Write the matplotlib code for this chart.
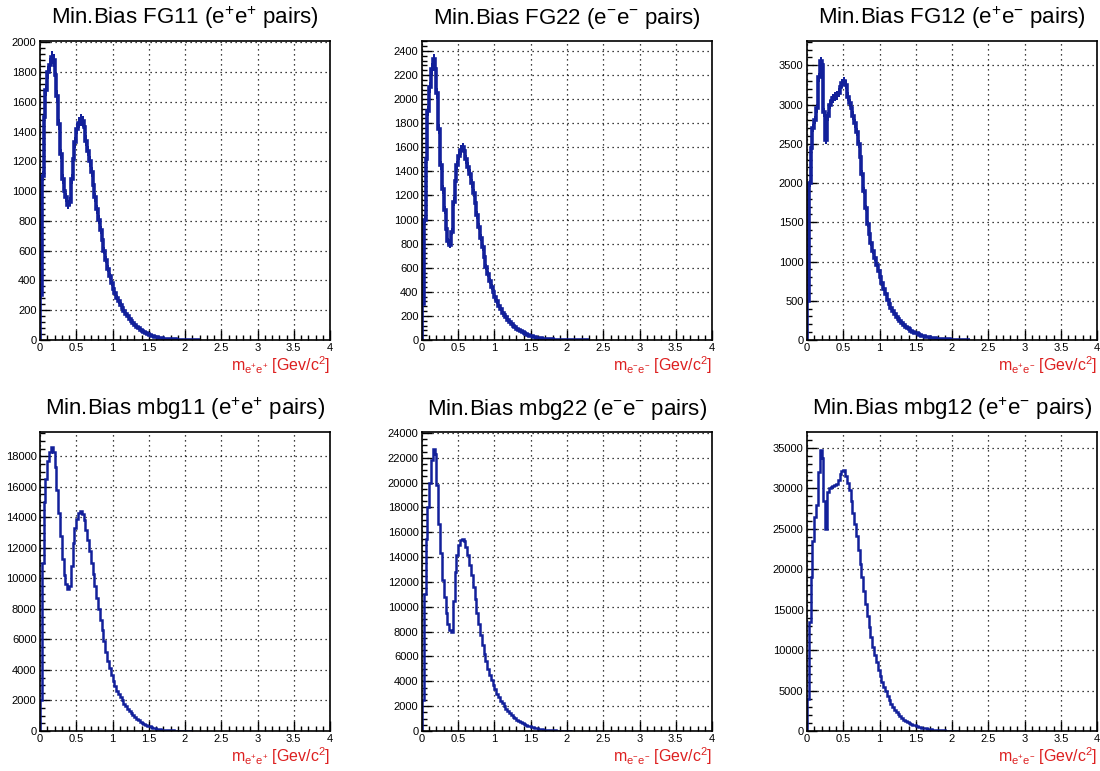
import numpy as np
import matplotlib
matplotlib.use('Agg')
import matplotlib.pyplot as plt
from matplotlib.ticker import MultipleLocator, AutoMinorLocator, FormatStrFormatter

plt.rcParams['font.family'] = ['Liberation Sans', 'DejaVu Sans']
plt.rcParams['mathtext.default'] = 'regular'

# bin width of all histograms [GeV/c^2], first bin starts at 0
BIN = 0.025

# foreground, like-sign e+e+
fg11 = [300, 1100, 1500, 1680, 1800, 1850, 1900, 1880, 1780, 1640,
        1450, 1250, 1080, 1000, 960, 910, 930, 1080, 1220, 1330,
        1420, 1460, 1480, 1470, 1430, 1340, 1270, 1200, 1130, 1040,
        960, 880, 810, 740, 670, 600, 540, 480, 430, 385,
        345, 315, 285, 260, 237, 215, 197, 178, 160, 143,
        128, 114, 101, 90, 80, 70, 62, 54, 47, 41,
        35, 30, 26, 22, 19, 16, 13, 11, 9, 8,
        7, 6, 5, 4, 3.5, 3, 2.5, 2, 1.7, 1.4,
        1.2, 1, 0.8, 0.6, 0.5, 0.4, 0.3, 0.2]

# foreground, like-sign e-e-
fg22 = [300, 1000, 1500, 1900, 2100, 2250, 2330, 2250, 2050, 1750,
        1450, 1250, 1080, 920, 820, 790, 900, 1150, 1320, 1450,
        1530, 1580, 1600, 1570, 1500, 1440, 1380, 1300, 1220, 1140,
        1040, 940, 850, 770, 690, 610, 550, 490, 440, 400,
        355, 320, 285, 255, 228, 205, 190, 170, 150, 133,
        118, 105, 93, 82, 72, 63, 55, 48, 42, 36,
        31, 27, 23, 20, 17, 14, 12, 10, 8, 7,
        6, 5, 4, 3.5, 3, 2.5, 2, 1.7, 1.4, 1.2,
        1, 0.8, 0.6, 0.5, 0.4, 0.3, 0.3, 0.2, 0.2, 0.1, 0.1, 0.1]

# foreground, unlike-sign e+e-
fg12 = [500, 2000, 2450, 2700, 2800, 2950, 3350, 3550, 3500, 2900,
        2550, 2850, 3000, 3050, 3080, 3100, 3120, 3150, 3220, 3270,
        3300, 3250, 3100, 3020, 2950, 2860, 2760, 2650, 2500, 2330,
        2120, 1900, 1680, 1480, 1350, 1230, 1130, 1040, 960, 880,
        800, 720, 650, 580, 515, 460, 410, 370, 330, 295,
        265, 238, 212, 190, 170, 152, 135, 120, 106, 94,
        83, 73, 64, 56, 49, 43, 38, 33, 29, 25,
        22, 19, 16, 14, 12, 10, 9, 8, 7, 6,
        5, 4, 3.5, 3, 2.5, 2, 1.5, 1.2, 1, 0.8]

# mixed-event background, e+e+
mbg11 = [2000, 11000, 15000, 16500, 17700, 18300, 18600, 18300, 17300, 15800,
         14300, 12800, 11300, 10200, 9600, 9300, 9500, 10800, 12300, 13300,
         13900, 14300, 14400, 14200, 13800, 13200, 12500, 11800, 11000, 10300,
         9500, 8700, 8000, 7300, 6600, 5900, 5200, 4600, 4100, 3700,
         3300, 2950, 2650, 2400, 2200, 2000, 1800, 1620, 1460, 1310,
         1170, 1040, 920, 810, 710, 620, 540, 470, 410, 355,
         305, 260, 220, 185, 155, 132, 113, 96, 82, 70,
         60, 51, 43, 36, 30, 25, 21, 17, 14, 11,
         9, 7, 5, 4]

# mixed-event background, e-e-
mbg22 = [2500, 11000, 15500, 18000, 20000, 21800, 22700, 22300, 19800, 16700,
         14300, 12200, 10800, 9500, 8600, 8100, 8000, 10500, 12800, 14200,
         15000, 15400, 15500, 15300, 14800, 14200, 13400, 12600, 11600, 10600,
         9500, 8600, 7700, 6900, 6200, 5600, 5000, 4500, 4100, 3700,
         3350, 3000, 2700, 2450, 2250, 2000, 1800, 1620, 1450, 1300,
         1160, 1030, 910, 810, 720, 640, 560, 490, 430, 380,
         330, 290, 250, 215, 185, 160, 138, 118, 100, 85,
         72, 61, 51, 43, 36, 30, 25, 20, 16, 13,
         10, 8, 6]

# mixed-event background, e+e-
mbg12 = [4000, 13500, 19000, 23500, 26500, 28000, 32000, 34800, 33800, 28500,
         25000, 29500, 30000, 30200, 30300, 30400, 30500, 31000, 31800, 32200,
         32300, 31500, 30700, 29800, 28400, 27000, 25600, 24100, 22400, 20700,
         19000, 17300, 15700, 14200, 12800, 11600, 10400, 9400, 8500, 7600,
         6800, 6100, 5500, 4900, 4300, 3800, 3350, 2950, 2600, 2300,
         2050, 1800, 1600, 1420, 1260, 1120, 1000, 880, 780, 690,
         610, 540, 470, 410, 360, 315, 275, 240, 210, 180,
         155, 130, 110, 92, 77, 64, 53, 43, 35, 28,
         22, 17, 13, 10]

titles = ['Min.Bias FG11 (e$^{+}$e$^{+}$ pairs)',
          'Min.Bias FG22 (e$^{-}$e$^{-}$ pairs)',
          'Min.Bias FG12 (e$^{+}$e$^{-}$ pairs)',
          'Min.Bias mbg11 (e$^{+}$e$^{+}$ pairs)',
          'Min.Bias mbg22 (e$^{-}$e$^{-}$ pairs)',
          'Min.Bias mbg12 (e$^{+}$e$^{-}$ pairs)']
xlabels = ['$m_{e^{+}e^{+}}$ [Gev/c$^{2}$]',
           '$m_{e^{-}e^{-}}$ [Gev/c$^{2}$]',
           '$m_{e^{+}e^{-}}$ [Gev/c$^{2}$]'] * 2
hists = [fg11, fg22, fg12, mbg11, mbg22, mbg12]
with_errors = [True, True, True, False, False, False]
ytop = [2010, 2483, 3810, 19590, 24080, 36970]
ystep = [200, 200, 500, 2000, 2000, 5000]
yminor = [5, 5, 5, 4, 4, 5]

BLUE = '#12209a'
RED = '#dd2020'

fig = plt.figure(figsize=(11, 7.71), dpi=100)
W, H = 1100, 771
lefts = [40, 422, 807]
tops = [41, 432]
aw, ah = 290, 299

for i in range(6):
    r, c = divmod(i, 3)
    ax = fig.add_axes([lefts[c] / W, (H - tops[r] - ah) / H, aw / W, ah / H])
    vals = np.asarray(hists[i], dtype=float)
    edges = np.arange(len(vals) + 1) * BIN
    if with_errors[i]:
        # statistical error band, drawn like ROOT's "E" option
        err = np.sqrt(vals)
        ax.stairs(vals + err, edges, baseline=np.clip(vals - err, 0, None),
                  fill=True, color=BLUE, lw=0)
        ax.stairs(vals, edges, color=BLUE, lw=2.6)
    else:
        ax.stairs(vals, edges, color=BLUE, lw=1.8)

    ax.set_xlim(0, 4)
    ax.set_ylim(0, ytop[i])
    ax.xaxis.set_major_locator(MultipleLocator(0.5))
    ax.xaxis.set_minor_locator(AutoMinorLocator(5))
    ax.xaxis.set_major_formatter(FormatStrFormatter('%g'))
    ax.yaxis.set_major_locator(MultipleLocator(ystep[i]))
    ax.yaxis.set_minor_locator(AutoMinorLocator(yminor[i]))
    ax.yaxis.set_major_formatter(FormatStrFormatter('%d'))
    ax.tick_params(which='both', direction='in', top=False, right=False,
                   width=1, labelsize=8, pad=2.5)
    ax.tick_params(which='major', length=7)
    ax.tick_params(which='minor', length=3.5)
    ax.grid(True, which='major', color='black', linestyle=(0, (1, 3)), linewidth=0.9)
    ax.set_axisbelow(True)
    for s in ax.spines.values():
        s.set_linewidth(1.2)

    ax.text(0.5, 1.056, titles[i], transform=ax.transAxes, ha='center',
            va='baseline', fontsize=16)
    ax.text(1.0, -0.104, xlabels[i], transform=ax.transAxes, ha='right',
            va='baseline', fontsize=11.5, color=RED)

fig.savefig('out.png', dpi=100)
